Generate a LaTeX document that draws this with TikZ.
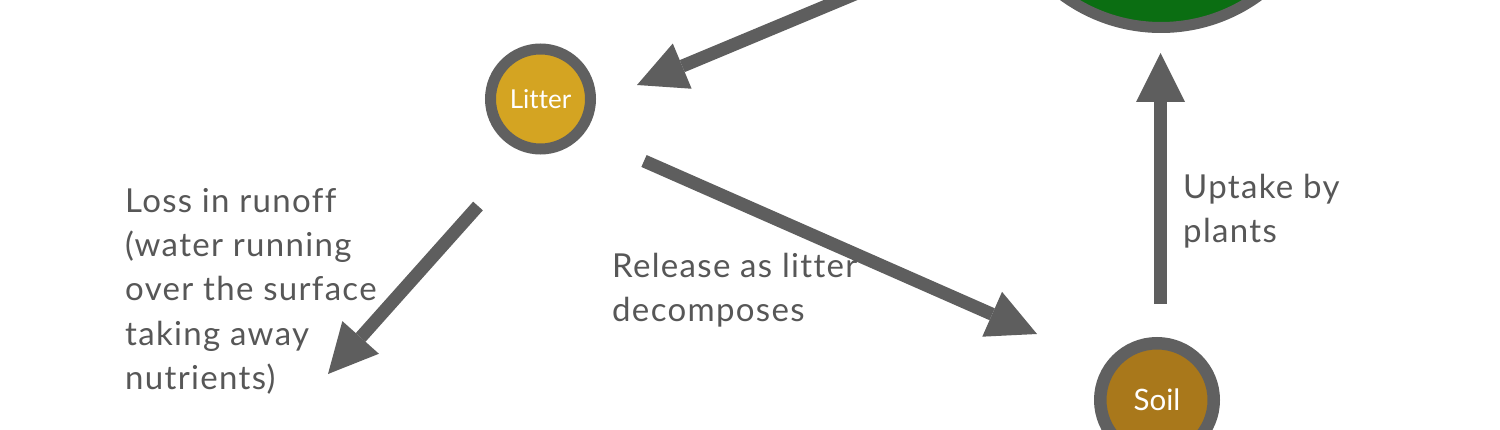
\documentclass[tikz,border=0pt]{standalone}
\usepackage{fontspec}
\setmainfont{Lato}[Ligatures={NoCommon}]
\newfontfamily\captionfont{Lato}[LetterSpace=4,Ligatures={NoCommon}]
\usetikzlibrary{arrows.meta,calc}
\definecolor{ringgray}{HTML}{606060}
\definecolor{arrowgray}{HTML}{5E5E5E}
\definecolor{textgray}{HTML}{575757}
\definecolor{leafgreen}{HTML}{0B6E12}
\definecolor{littergold}{HTML}{D4A422}
\definecolor{soilbrown}{HTML}{A9781B}
\tikzset{
  pool/.style={circle, draw=ringgray, inner sep=0pt, text=white},
  flow/.style={draw=arrowgray, line width=13pt,
    -{Triangle[length=49pt,width=49pt,line width=0pt]}},
  caption/.style={anchor=base west, align=left, inner sep=0pt, text=textgray,
    font={\captionfont\fontsize{33}{44.5}\selectfont}}
}
\begin{document}
\begin{tikzpicture}[x=1pt,y=-1pt]
\useasboundingbox (0,0) rectangle (1500,430);
\clip (0,0) rectangle (1500,430);
\fill[white] (0,0) rectangle (1500,430);

\node[pool, fill=leafgreen, line width=11pt, minimum size=331pt] (green) at (1161,-138) {};
\node[pool, fill=littergold, line width=11pt, minimum size=100pt,
      font={\fontsize{26}{30}\selectfont}] (litter) at (540.5,99) {Litter};
\node[pool, fill=soilbrown, line width=12.5pt, minimum size=113.5pt,
      font={\fontsize{29.5}{34}\selectfont}] (soil) at (1157,400) {Soil};
\coordinate (runoff) at (328,374);

\draw[flow] ($(green)+(-155,69)$) -- ($(litter)+(96.5,-14)$);
\draw[flow] ($(litter)+(103.5,62)$) -- ($(soil)+(-120,-66)$);
\draw[flow] ($(soil)+(3.5,-96)$) -- ($(green)+(-0.5,191)$);
\draw[flow] ($(litter)+(-62.5,107)$) -- (runoff);

\node[caption] (losstext) at (125,390) {Loss in runoff\\(water running\\over the surface\\taking away\\nutrients)};
\node[caption] (releasetext) at (612,322) {Release as litter\\decomposes};
\node[caption] (uptaketext) at (1183,243) {Uptake by\\plants};
\end{tikzpicture}
\end{document}
